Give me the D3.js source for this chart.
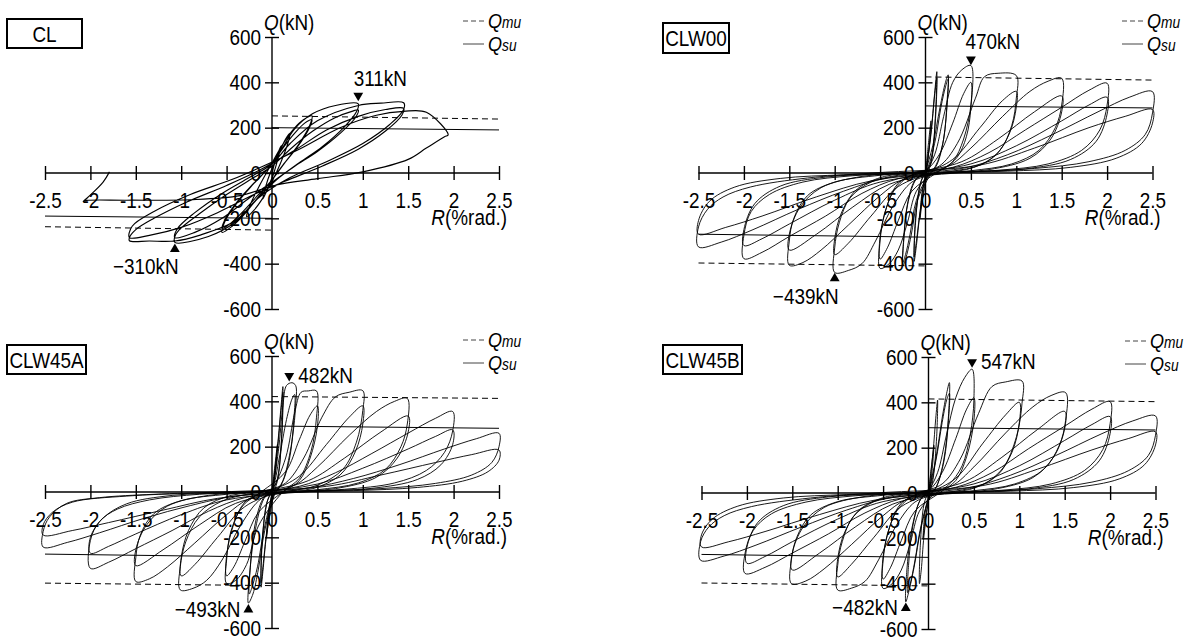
<!DOCTYPE html>
<html>
<head>
<meta charset="utf-8">
<script src="https://cdn.jsdelivr.net/npm/d3@7"></script>
<style>
  body { margin: 0; background: #fff; }
  svg { display: block; }
  text { font-family: "Liberation Sans", Arial, sans-serif; fill: #000; }
</style>
</head>
<body>
<svg id="chart" width="1187" height="637"></svg>
<script>
// axis ticks
var rTicks = [-2.5, -2, -1.5, -1, -0.5, 0, 0.5, 1, 1.5, 2, 2.5];
var rTickLabels = ["-2.5", "-2", "-1.5", "-1", "-0.5", "0", "0.5", "1", "1.5", "2", "2.5"];
var qTicks = [600, 400, 200, 0, -200, -400, -600];
var qTickLabels = ["600", "400", "200", "0", "-200", "-400", "-600"];

// specimen names
var specimens = ["CL", "CLW00", "CLW45A", "CLW45B"];

// hysteresis loops, [R (%rad.), Q (kN)], one array per cycle
var clLoops = [
  [[0,0],[0.05,70],[0.1,120],[0.07,70],[0.02,0],[-0.04,-60],[-0.1,-115],[-0.07,-60],[-0.01,10]],
  [[0.08,90],[0.15,150],[0.2,176],[0.17,125],[0.09,40],[0.01,-30],[-0.1,-110],[-0.2,-165],[-0.28,-193],[-0.24,-140],[-0.13,-50],[-0.02,30]],
  [[0.1,115],[0.24,195],[0.35,236],[0.44,252],[0.41,205],[0.3,130],[0.14,45],[0.01,-25],[-0.15,-105],[-0.3,-180],[-0.44,-235],[-0.55,-262],[-0.52,-215],[-0.4,-140],[-0.22,-55],[-0.02,30]],
  [[0.12,110],[0.26,180],[0.36,220],[0.44,235],[0.4,190],[0.28,115],[0.12,35],[0,-30],[-0.16,-100],[-0.32,-170],[-0.45,-220],[-0.55,-245],[-0.51,-200],[-0.38,-125],[-0.2,-45],[-0.02,30]],
  [[0.1,100],[0.25,195],[0.45,262],[0.7,298],[0.95,305],[0.93,270],[0.8,205],[0.55,115],[0.3,45],[0.05,-30],[-0.15,-110],[-0.4,-215],[-0.7,-280],[-1.07,-306],[-1.07,-280],[-1.02,-250],[-0.8,-180],[-0.5,-95],[-0.2,-20],[0,30]],
  [[0.2,105],[0.45,185],[0.7,245],[0.88,272],[0.95,278],[0.92,245],[0.75,175],[0.5,95],[0.25,30],[0.02,-35],[-0.25,-110],[-0.55,-200],[-0.85,-262],[-1.07,-285],[-1.04,-245],[-0.85,-175],[-0.55,-90],[-0.25,-20],[0,40]],
  [[0.2,130],[0.5,230],[0.95,298],[1.2,308],[1.45,310],[1.45,280],[1.3,215],[1.0,130],[0.6,50],[0.2,-20],[-0.15,-110],[-0.4,-210],[-0.8,-275],[-1.07,-300],[-1.35,-300],[-1.57,-299],[-1.57,-285],[-1.5,-250],[-1.3,-200],[-0.95,-130],[-0.5,-55],[-0.15,10]],
  [[0.25,100],[0.6,190],[0.95,250],[1.25,280],[1.45,285],[1.43,255],[1.25,185],[0.95,105],[0.55,30],[0.15,-35],[-0.2,-95],[-0.6,-175],[-1.0,-240],[-1.35,-275],[-1.57,-285],[-1.54,-235],[-1.3,-170],[-0.9,-95],[-0.45,-30],[-0.1,30]],
  [[0.3,105],[0.75,200],[1.15,255],[1.45,272],[1.7,268],[1.94,168],[1.9,160],[1.7,110],[1.5,60],[1.0,5],[0.5,-25],[0.02,-55],[-0.35,-100],[-0.9,-118],[-1.6,-120],[-2.04,-121],[-2.08,-126],[-2.03,-108],[-1.86,-40],[-1.79,5]]
];

var clw00Loops = [
  [[0,0],[0.03,120],[0.06,230],[0.04,110],[0.01,0],[-0.03,-100],[-0.06,-200],[-0.04,-90],[0,0]],
  [[0.06,170],[0.1,350],[0.125,447],[0.11,260],[0.07,60],[0.02,-10],[-0.06,-180],[-0.1,-320],[-0.125,-390],[-0.11,-220],[-0.06,-50],[0,10]],
  [[0.06,180],[0.1,340],[0.125,420],[0.11,240],[0.06,50],[0,-10],[-0.06,-170],[-0.1,-300],[-0.125,-370],[-0.11,-200],[-0.05,-40],[0,10]],
  [[0.08,120],[0.16,290],[0.22,400],[0.25,433],[0.24,330],[0.2,150],[0.13,40],[0.05,-10],[-0.08,-110],[-0.16,-280],[-0.22,-380],[-0.25,-410],[-0.24,-300],[-0.2,-140],[-0.12,-35],[0,5]],
  [[0.1,130],[0.17,290],[0.22,380],[0.25,415],[0.24,310],[0.19,130],[0.11,30],[0.03,-10],[-0.1,-120],[-0.17,-270],[-0.22,-360],[-0.25,-395],[-0.24,-290],[-0.19,-125],[-0.1,-25],[0,5]],
  [[0.1,80],[0.2,250],[0.3,400],[0.4,455],[0.5,474],[0.5,290],[0.45,160],[0.35,70],[0.2,20],[0.05,-10],[-0.1,-80],[-0.2,-220],[-0.3,-340],[-0.4,-400],[-0.5,-421],[-0.5,-300],[-0.45,-180],[-0.35,-80],[-0.2,-20],[0,10]],
  [[0.15,80],[0.3,220],[0.42,350],[0.5,400],[0.5,300],[0.42,150],[0.3,50],[0.12,0],[-0.15,-80],[-0.3,-210],[-0.42,-330],[-0.5,-380],[-0.5,-280],[-0.42,-140],[-0.3,-45],[-0.1,0]],
  [[0.15,30],[0.35,130],[0.55,330],[0.65,425],[0.8,440],[1.0,430],[1.0,330],[0.95,210],[0.82,100],[0.6,35],[0.3,8],[0.05,-10],[-0.15,-40],[-0.35,-140],[-0.55,-300],[-0.7,-400],[-0.85,-430],[-1.0,-439],[-1.0,-330],[-0.95,-220],[-0.83,-110],[-0.6,-40],[-0.3,-10],[0,5]],
  [[0.3,60],[0.6,200],[0.85,320],[1.0,360],[1.0,290],[0.92,170],[0.75,70],[0.45,15],[0.1,0],[-0.3,-60],[-0.6,-190],[-0.85,-310],[-1.0,-360],[-1.0,-290],[-0.92,-170],[-0.75,-70],[-0.45,-15],[-0.1,0]],
  [[0.25,30],[0.5,110],[0.85,250],[1.15,360],[1.35,405],[1.5,418],[1.5,300],[1.43,200],[1.25,100],[0.95,40],[0.5,10],[0.1,-5],[-0.25,-30],[-0.5,-100],[-0.85,-230],[-1.15,-340],[-1.35,-395],[-1.5,-407],[-1.5,-300],[-1.45,-200],[-1.3,-100],[-1.0,-40],[-0.5,-10],[-0.1,5]],
  [[0.4,50],[0.8,150],[1.2,270],[1.5,340],[1.5,270],[1.38,150],[1.15,65],[0.7,15],[0.2,0],[-0.4,-50],[-0.8,-150],[-1.2,-270],[-1.5,-340],[-1.5,-270],[-1.38,-150],[-1.15,-65],[-0.7,-15],[-0.2,0]],
  [[0.3,25],[0.7,90],[1.1,190],[1.5,290],[1.8,365],[2.0,396],[2.0,300],[1.92,190],[1.72,100],[1.35,40],[0.8,12],[0.2,0],[-0.3,-25],[-0.7,-90],[-1.1,-190],[-1.5,-280],[-1.8,-350],[-2.0,-378],[-2.0,-275],[-1.92,-170],[-1.72,-95],[-1.35,-40],[-0.8,-12],[-0.2,0]],
  [[0.5,40],[1.0,120],[1.5,230],[1.8,300],[2.0,334],[2.0,260],[1.88,140],[1.6,60],[1.1,18],[0.4,2],[-0.5,-40],[-1.0,-120],[-1.5,-225],[-1.8,-290],[-2.0,-320],[-2.0,-250],[-1.88,-135],[-1.6,-58],[-1.1,-18],[-0.4,-2]],
  [[0.4,20],[0.9,80],[1.4,170],[1.9,270],[2.25,335],[2.5,359],[2.5,265],[2.42,170],[2.2,100],[1.8,50],[1.2,20],[0.5,5],[-0.4,-20],[-0.9,-80],[-1.4,-160],[-1.9,-250],[-2.25,-305],[-2.5,-326],[-2.5,-238],[-2.4,-160],[-2.23,-106],[-1.93,-62],[-1.3,-22],[-0.58,0]],
  [[0.6,35],[1.2,110],[1.8,200],[2.2,250],[2.5,280],[2.5,220],[2.38,130],[2.1,65],[1.6,25],[0.9,8],[0.2,0],[-0.6,-35],[-1.2,-105],[-1.8,-190],[-2.2,-240],[-2.5,-270],[-2.5,-210],[-2.38,-125],[-2.1,-62],[-1.6,-24],[-0.9,-8],[-0.2,0]]
];

var clw45aLoops = [
  [[0,0],[0.03,110],[0.06,210],[0.04,100],[0.01,0],[-0.03,-100],[-0.06,-200],[-0.04,-90],[0,0]],
  [[0.06,200],[0.1,380],[0.12,465],[0.11,280],[0.07,70],[0.02,-10],[-0.06,-190],[-0.1,-350],[-0.12,-420],[-0.11,-240],[-0.06,-50],[0,10]],
  [[0.06,190],[0.1,360],[0.12,440],[0.11,260],[0.06,60],[0,-10],[-0.06,-180],[-0.1,-330],[-0.12,-400],[-0.11,-220],[-0.05,-40],[0,10]],
  [[0.07,180],[0.12,380],[0.16,470],[0.22,482],[0.26,470],[0.26,380],[0.21,200],[0.12,50],[0.03,-10],[-0.08,-170],[-0.15,-340],[-0.21,-450],[-0.26,-490],[-0.25,-380],[-0.19,-180],[-0.09,-30],[0,10]],
  [[0.08,150],[0.16,320],[0.22,410],[0.25,430],[0.24,320],[0.19,140],[0.1,30],[0.02,-10],[-0.08,-150],[-0.16,-330],[-0.22,-420],[-0.25,-450],[-0.24,-340],[-0.19,-150],[-0.1,-30],[0,10]],
  [[0.15,150],[0.25,350],[0.32,440],[0.4,446],[0.49,446],[0.49,330],[0.43,180],[0.3,60],[0.12,0],[-0.15,-150],[-0.28,-320],[-0.4,-390],[-0.5,-403],[-0.5,-300],[-0.45,-170],[-0.32,-60],[-0.12,0]],
  [[0.15,90],[0.3,230],[0.42,340],[0.5,380],[0.5,290],[0.42,150],[0.3,50],[0.12,0],[-0.15,-90],[-0.3,-220],[-0.42,-330],[-0.5,-370],[-0.5,-280],[-0.42,-140],[-0.3,-45],[-0.1,0]],
  [[0.15,40],[0.35,150],[0.55,330],[0.7,420],[0.85,440],[1.0,447],[1.0,360],[0.93,220],[0.78,100],[0.5,30],[0.2,5],[0,-5],[-0.15,-40],[-0.35,-150],[-0.55,-300],[-0.72,-390],[-0.87,-425],[-1.01,-432],[-1.01,-330],[-0.95,-220],[-0.8,-110],[-0.55,-40],[-0.25,-8],[0,10]],
  [[0.3,70],[0.6,210],[0.85,330],[1.0,380],[1.0,300],[0.92,180],[0.75,75],[0.45,15],[0.1,0],[-0.3,-65],[-0.6,-200],[-0.85,-320],[-1.0,-370],[-1.0,-290],[-0.92,-170],[-0.75,-70],[-0.45,-15],[-0.1,0]],
  [[0.25,30],[0.5,110],[0.85,250],[1.15,355],[1.35,400],[1.49,413],[1.49,300],[1.42,200],[1.25,100],[0.95,40],[0.5,10],[0.1,-5],[-0.25,-30],[-0.5,-100],[-0.85,-225],[-1.15,-330],[-1.35,-383],[-1.5,-395],[-1.5,-290],[-1.45,-190],[-1.3,-95],[-1.0,-38],[-0.5,-10],[-0.1,5]],
  [[0.4,50],[0.8,150],[1.2,265],[1.5,335],[1.5,265],[1.38,150],[1.15,65],[0.7,15],[0.2,0],[-0.4,-50],[-0.8,-145],[-1.2,-255],[-1.5,-325],[-1.5,-255],[-1.38,-145],[-1.15,-62],[-0.7,-15],[-0.2,0]],
  [[0.3,25],[0.7,85],[1.1,170],[1.5,260],[1.8,325],[1.99,355],[1.99,270],[1.9,175],[1.7,95],[1.35,40],[0.8,12],[0.2,0],[-0.3,-25],[-0.7,-85],[-1.1,-170],[-1.5,-250],[-1.8,-310],[-2.0,-337],[-2.0,-214],[-1.9,-130],[-1.7,-75],[-1.35,-35],[-0.8,-10],[-0.2,0]],
  [[0.5,35],[1.0,105],[1.5,190],[1.8,245],[1.99,274],[1.99,210],[1.86,120],[1.6,55],[1.1,16],[0.4,2],[-0.5,-35],[-1.0,-100],[-1.5,-185],[-1.8,-240],[-2.0,-270],[-2.0,-200],[-1.86,-115],[-1.6,-52],[-1.1,-15],[-0.4,-2]],
  [[0.4,18],[0.9,60],[1.4,120],[1.9,190],[2.25,235],[2.5,259],[2.5,200],[2.42,130],[2.2,75],[1.8,38],[1.2,15],[0.5,3],[-0.4,-18],[-0.9,-60],[-1.4,-115],[-1.9,-180],[-2.25,-222],[-2.52,-243],[-2.52,-174],[-2.45,-110],[-2.26,-50],[-1.9,-25],[-1.3,-10],[-0.58,0]],
  [[0.6,25],[1.2,75],[1.8,130],[2.2,165],[2.5,185],[2.5,140],[2.38,90],[2.1,48],[1.6,20],[0.9,6],[0.2,0],[-0.6,-28],[-1.2,-80],[-1.8,-135],[-2.2,-170],[-2.52,-190],[-2.52,-145],[-2.42,-90],[-2.2,-45],[-1.6,-18],[-0.9,-6],[-0.2,0]]
];

var clw45bLoops = [
  [[0,0],[0.03,110],[0.06,210],[0.04,100],[0.01,0],[-0.03,-100],[-0.06,-200],[-0.04,-90],[0,0]],
  [[0.05,180],[0.08,330],[0.1,410],[0.09,250],[0.05,60],[0.01,-10],[-0.05,-190],[-0.08,-340],[-0.1,-400],[-0.09,-230],[-0.05,-50],[0,10]],
  [[0.08,150],[0.15,330],[0.2,440],[0.23,487],[0.22,340],[0.17,150],[0.09,30],[0.02,-10],[-0.08,-150],[-0.16,-330],[-0.22,-440],[-0.25,-480],[-0.24,-350],[-0.18,-150],[-0.09,-30],[0,10]],
  [[0.08,140],[0.15,310],[0.2,410],[0.23,440],[0.22,320],[0.17,140],[0.09,30],[0.02,-10],[-0.08,-140],[-0.15,-300],[-0.2,-400],[-0.23,-440],[-0.22,-320],[-0.17,-140],[-0.09,-30],[0,10]],
  [[0.1,90],[0.2,260],[0.3,420],[0.4,510],[0.48,546],[0.5,410],[0.46,260],[0.37,120],[0.22,35],[0.05,-10],[-0.1,-80],[-0.2,-220],[-0.3,-340],[-0.4,-400],[-0.5,-421],[-0.5,-300],[-0.45,-180],[-0.35,-80],[-0.2,-20],[0,10]],
  [[0.15,90],[0.3,240],[0.42,370],[0.5,420],[0.5,320],[0.42,160],[0.3,55],[0.12,0],[-0.15,-80],[-0.3,-210],[-0.42,-330],[-0.5,-380],[-0.5,-280],[-0.42,-140],[-0.3,-45],[-0.1,0]],
  [[0.15,40],[0.35,150],[0.55,350],[0.7,470],[0.85,490],[1.03,494],[1.03,396],[0.97,250],[0.82,110],[0.6,38],[0.3,8],[0.05,-10],[-0.15,-40],[-0.35,-140],[-0.55,-295],[-0.7,-390],[-0.85,-420],[-1.0,-428],[-1.0,-320],[-0.95,-215],[-0.83,-105],[-0.6,-38],[-0.3,-10],[0,5]],
  [[0.3,65],[0.6,220],[0.85,345],[1.0,400],[1.0,310],[0.92,180],[0.75,75],[0.45,15],[0.1,0],[-0.3,-60],[-0.6,-195],[-0.85,-315],[-1.0,-370],[-1.0,-290],[-0.92,-170],[-0.75,-70],[-0.45,-15],[-0.1,0]],
  [[0.25,30],[0.5,115],[0.85,265],[1.15,380],[1.35,430],[1.51,443],[1.51,320],[1.44,210],[1.27,105],[0.95,40],[0.5,10],[0.1,-5],[-0.25,-30],[-0.5,-100],[-0.85,-228],[-1.15,-335],[-1.35,-388],[-1.51,-400],[-1.51,-295],[-1.45,-195],[-1.3,-98],[-1.0,-38],[-0.5,-10],[-0.1,5]],
  [[0.4,50],[0.8,155],[1.2,280],[1.5,360],[1.5,285],[1.38,160],[1.15,68],[0.7,15],[0.2,0],[-0.4,-50],[-0.8,-148],[-1.2,-265],[-1.5,-340],[-1.5,-265],[-1.38,-150],[-1.15,-64],[-0.7,-15],[-0.2,0]],
  [[0.3,25],[0.7,90],[1.1,195],[1.5,295],[1.8,370],[2.0,403],[2.0,305],[1.92,192],[1.72,100],[1.35,40],[0.8,12],[0.2,0],[-0.3,-25],[-0.7,-88],[-1.1,-180],[-1.5,-265],[-1.8,-328],[-2.02,-355],[-2.02,-265],[-1.93,-165],[-1.73,-92],[-1.35,-40],[-0.8,-12],[-0.2,0]],
  [[0.5,40],[1.0,120],[1.5,232],[1.8,302],[2.0,337],[2.0,262],[1.88,142],[1.6,60],[1.1,18],[0.4,2],[-0.5,-38],[-1.0,-115],[-1.5,-215],[-1.8,-280],[-2.0,-310],[-2.0,-240],[-1.88,-130],[-1.6,-56],[-1.1,-17],[-0.4,-2]],
  [[0.4,20],[0.9,78],[1.4,165],[1.9,260],[2.25,318],[2.5,340],[2.5,255],[2.42,165],[2.2,98],[1.8,48],[1.2,19],[0.5,4],[-0.4,-20],[-0.9,-75],[-1.4,-150],[-1.9,-230],[-2.25,-278],[-2.51,-297],[-2.51,-215],[-2.42,-150],[-2.25,-100],[-1.95,-60],[-1.3,-22],[-0.58,0]],
  [[0.6,33],[1.2,105],[1.8,190],[2.2,240],[2.5,270],[2.5,212],[2.38,125],[2.1,62],[1.6,24],[0.9,8],[0.2,0],[-0.6,-32],[-1.2,-95],[-1.8,-170],[-2.2,-215],[-2.5,-238],[-2.5,-185],[-2.38,-115],[-2.1,-58],[-1.6,-22],[-0.9,-7],[-0.2,0]]
];

// calculated strengths Qmu (dashed) and Qsu (solid), two segments each
var clQmu = [[[0,252],[2.5,238]], [[-2.5,-237],[0,-252]]];
var clQsu = [[[0,200],[2.5,190]], [[-2.5,-190],[0,-200]]];
var clw00Qmu = [[[0,424],[2.5,410]], [[-2.5,-397],[0,-410]]];
var clw00Qsu = [[[0,296],[2.5,287]], [[-2.5,-270],[0,-283]]];
var clw45aQmu = [[[0,421],[2.5,413]], [[-2.5,-402],[0,-413]]];
var clw45aQsu = [[[0,291],[2.5,281]], [[-2.5,-274],[0,-287]]];
var clw45bQmu = [[[0,415],[2.5,403]], [[-2.5,-397],[0,-410]]];
var clw45bQsu = [[[0,288],[2.5,278]], [[-2.5,-271],[0,-284]]];

// maximum strengths [R, Q]
var clPeaks = [[0.95, 311], [-1.07, -310]];
var clw00Peaks = [[0.5, 470], [-1.0, -439]];
var clw45aPeaks = [[0.19, 482], [-0.26, -493]];
var clw45bPeaks = [[0.48, 547], [-0.25, -482]];

// layout of the four panels
var panels = [
  {name: specimens[0], loops: clLoops, qmu: clQmu, qsu: clQsu, peaks: clPeaks,
   cx: 272, cy: 173, box: [7, 19, 75, 29], legendX: 463, note: "stack", lw: 1.15},
  {name: specimens[1], loops: clw00Loops, qmu: clw00Qmu, qsu: clw00Qsu, peaks: clw00Peaks,
   cx: 925.5, cy: 173, box: [663, 23, 66, 30], legendX: 1122, note: "stack", lw: 0.9},
  {name: specimens[2], loops: clw45aLoops, qmu: clw45aQmu, qsu: clw45aQsu, peaks: clw45aPeaks,
   cx: 272, cy: 492, box: [7, 345, 79, 29], legendX: 463, note: "side", lw: 0.9},
  {name: specimens[3], loops: clw45bLoops, qmu: clw45bQmu, qsu: clw45bQsu, peaks: clw45bPeaks,
   cx: 928.5, cy: 493, box: [663, 345, 79, 29], legendX: 1125, note: "side", lw: 0.9}
];

var svg = d3.select("#chart");
var FS = 22;       // font size
var SQ = 0.86;     // horizontal squeeze, the original lettering is condensed

// text squeezed sideways around its anchor point
function ntext(parent, x, y, anchor, size) {
  return parent.append("text")
    .attr("transform", "translate(" + x + "," + y + ") scale(" + SQ + ",1)")
    .attr("text-anchor", anchor || "start")
    .style("font-size", (size || FS) + "px");
}

panels.forEach(function(p) {
  var g = svg.append("g");
  var x = d3.scaleLinear().domain([-2.5, 2.5]).range([p.cx - 227, p.cx + 227]);
  var y = d3.scaleLinear().domain([-600, 600]).range([p.cy + 136, p.cy - 136]);

  // axes: ticks cross the axis line on both sides
  var xAxis = d3.axisBottom(x).tickValues(rTicks)
      .tickFormat(function(d, i) { return rTickLabels[i]; })
      .tickSize(14).tickPadding(12);
  var gx = g.append("g").attr("transform", "translate(0," + (p.cy - 7) + ")").call(xAxis);
  gx.select(".domain").remove();

  var yAxis = d3.axisLeft(y).tickValues(qTicks)
      .tickFormat(function(d, i) { return qTickLabels[i]; })
      .tickSize(14).tickPadding(4);
  var gy = g.append("g").attr("transform", "translate(" + (p.cx + 7) + ",0)").call(yAxis);
  gy.select(".domain").remove();
  gy.selectAll("text").attr("x", -18 / SQ);

  [gx, gy].forEach(function(a) {
    a.attr("font-family", null).attr("font-size", null);
    a.selectAll("line").attr("stroke", "#000").attr("stroke-width", 1.4);
    a.selectAll("text").style("font-size", FS + "px").attr("transform", "scale(" + SQ + ",1)");
  });

  g.append("line").attr("x1", x(-2.5)).attr("x2", x(2.5)).attr("y1", p.cy).attr("y2", p.cy)
    .attr("stroke", "#000").attr("stroke-width", 1.4);
  g.append("line").attr("x1", p.cx).attr("x2", p.cx).attr("y1", y(600)).attr("y2", y(-600))
    .attr("stroke", "#000").attr("stroke-width", 1.4);

  // axis titles
  var qt = ntext(g, p.cx - 8, p.cy - 143, "start");
  qt.append("tspan").style("font-style", "italic").text("Q");
  qt.append("tspan").text("(kN)");
  var rt = ntext(g, x(2.5) + 8, p.cy + 52, "end");
  rt.append("tspan").style("font-style", "italic").text("R");
  rt.append("tspan").text("(%rad.)");

  // Qmu / Qsu lines
  var straight = d3.line().x(function(d) { return x(d[0]); }).y(function(d) { return y(d[1]); });
  p.qmu.forEach(function(seg) {
    g.append("path").attr("d", straight(seg)).attr("fill", "none")
      .attr("stroke", "#000").attr("stroke-width", 1).attr("stroke-dasharray", "6,4");
  });
  p.qsu.forEach(function(seg) {
    g.append("path").attr("d", straight(seg)).attr("fill", "none")
      .attr("stroke", "#000").attr("stroke-width", 1);
  });

  // hysteresis curve
  var curve = d3.line().x(function(d) { return x(d[0]); }).y(function(d) { return y(d[1]); })
    .curve(d3.curveCatmullRom.alpha(0.5));
  var pts = [].concat.apply([], p.loops);
  g.append("path").attr("d", curve(pts)).attr("fill", "none")
    .attr("stroke", "#000").attr("stroke-width", p.lw).attr("stroke-linejoin", "round");

  // specimen label box
  g.append("rect").attr("x", p.box[0]).attr("y", p.box[1]).attr("width", p.box[2]).attr("height", p.box[3])
    .attr("fill", "none").attr("stroke", "#000").attr("stroke-width", 2);
  ntext(g, p.box[0] + p.box[2] / 2, p.box[1] + p.box[3] / 2 + 8, "middle", FS).text(p.name);

  // legend
  var ly = p.cy - 152;
  g.append("line").attr("x1", p.legendX).attr("x2", p.legendX + 21).attr("y1", ly).attr("y2", ly)
    .attr("stroke", "#444").attr("stroke-width", 1).attr("stroke-dasharray", "5,3");
  g.append("line").attr("x1", p.legendX).attr("x2", p.legendX + 21).attr("y1", ly + 23).attr("y2", ly + 23)
    .attr("stroke", "#444").attr("stroke-width", 1);
  [["mu", ly + 7], ["su", ly + 30]].forEach(function(l) {
    var t = ntext(g, p.legendX + 25, l[1], "start", 21).style("font-style", "italic");
    t.append("tspan").text("Q");
    t.append("tspan").style("font-size", "16px").text(l[0]);
  });

  // peak markers
  p.peaks.forEach(function(pk) {
    var up = pk[1] < 0;
    var mx = x(pk[0]);
    var my = up ? y(pk[1]) + 6 : y(pk[1]) - 7;
    g.append("path").attr("d", d3.symbol().type(d3.symbolTriangle).size(42)())
      .attr("transform", "translate(" + mx + "," + my + ")" + (up ? "" : " rotate(180)"))
      .attr("fill", "#000");
    var label = (up ? "\u2212" : "") + Math.abs(pk[1]) + "kN";
    if (p.note === "stack") {
      if (up) ntext(g, mx - 29, my + 25, "middle").text(label);
      else ntext(g, mx + 22, my - 10, "middle").text(label);
    } else {
      if (up) ntext(g, mx - 8, my + 7, "end").text(label);
      else ntext(g, mx + 9, my + 7, "start").text(label);
    }
  });
});
</script>
</body>
</html>
